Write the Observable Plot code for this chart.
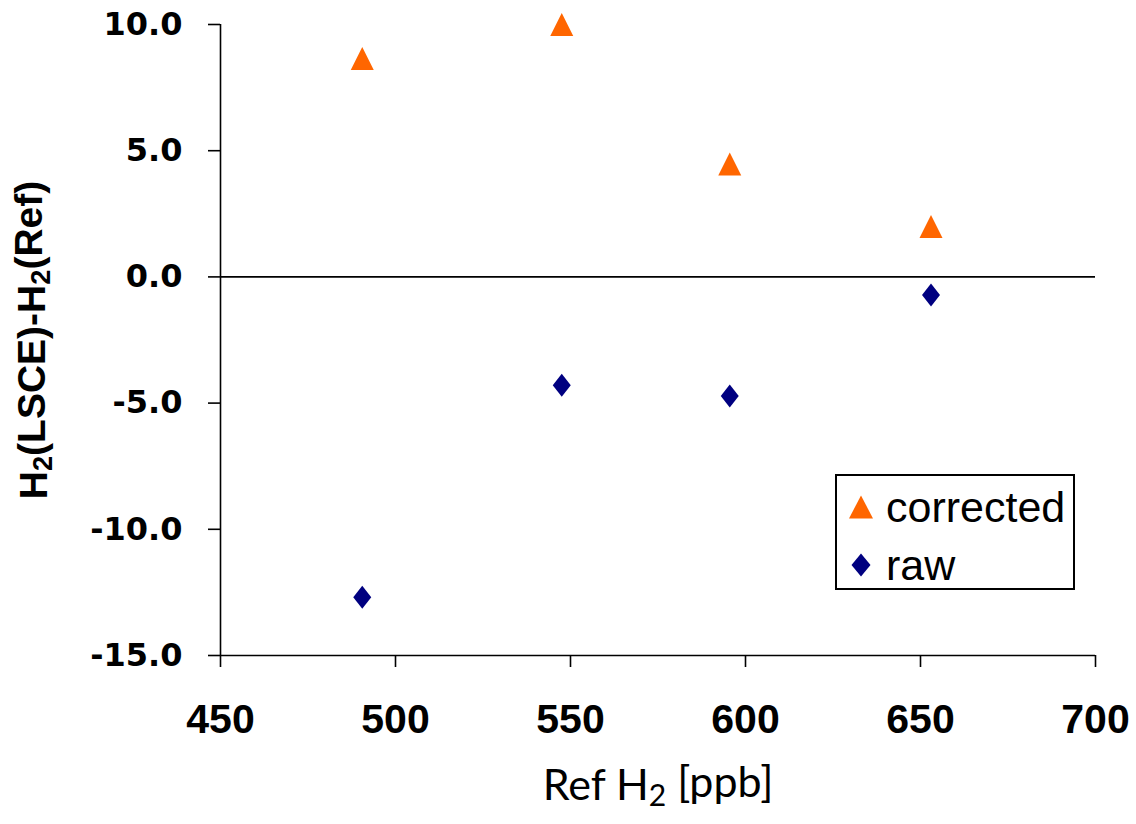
<!DOCTYPE html>
<html>
<head>
<meta charset="utf-8">
<script src="https://cdn.jsdelivr.net/npm/d3@7"></script>
<script src="https://cdn.jsdelivr.net/npm/@observablehq/plot@0.6"></script>
<style>
  html, body { margin: 0; padding: 0; background: #fff; }
  #wrap { position: relative; width: 1136px; height: 824px; }
  #legend {
    position: absolute; left: 835px; top: 474px; width: 236px; height: 112px;
    border: 2px solid #000; background: #fff; box-sizing: content-box;
    font-family: "Liberation Sans", Arial, sans-serif; font-size: 43px; color: #000;
  }
  .li { position: absolute; left: 0; height: 50px; width: 236px; }
  .li svg { position: absolute; left: 11px; top: 12px; }
  .li span { position: absolute; left: 49px; top: 0; line-height: 50px; }
</style>
</head>
<body>
<div id="wrap">
  <div id="chart"></div>
  <div id="legend"></div>
</div>
<script>
// ---- data ----
const refH2 = [490.5, 547.5, 595.5, 653];
const corrected = [8.65, 10.0, 4.47, 2.0];
const raw = [-12.69, -4.29, -4.72, -0.72];
const seriesNames = ["corrected", "raw"];
const seriesColors = ["#FF6600", "#000080"];
const xTicks = [450, 500, 550, 600, 650, 700];
const yTicks = [-15, -10, -5, 0, 5, 10];
const xLabel = "Ref H₂ [ppb]";
const yLabel = "H₂(LSCE)-H₂(Ref)";

const rows = [
  ...refH2.map((x, i) => ({x, y: corrected[i], series: "corrected"})),
  ...refH2.map((x, i) => ({x, y: raw[i], series: "raw"}))
];

// custom symbols (bounding-box centred)
const triSym = {
  draw(ctx, size) {
    const r = Math.sqrt(size / Math.PI);
    const hw = 1.28 * r, hh = 1.28 * r;
    ctx.moveTo(0, -hh); ctx.lineTo(hw, hh); ctx.lineTo(-hw, hh); ctx.closePath();
  }
};
const diaSym = {
  draw(ctx, size) {
    const r = Math.sqrt(size / Math.PI);
    const hw = 1.0 * r, hh = 1.28 * r;
    ctx.moveTo(0, -hh); ctx.lineTo(hw, 0); ctx.lineTo(0, hh); ctx.lineTo(-hw, 0); ctx.closePath();
  }
};

const chart = Plot.plot({
  width: 1136,
  height: 824,
  marginLeft: 220,
  marginRight: 41,
  marginTop: 24,
  marginBottom: 169,
  style: {background: "#fff", color: "#000"},
  x: {domain: [450, 700]},
  y: {domain: [-15, 10]},
  marks: [
    Plot.ruleY([0], {stroke: "#000", strokeWidth: 1.6}),
    Plot.ruleX([450], {stroke: "#000", strokeWidth: 1.6}),
    Plot.ruleY([-15], {stroke: "#000", strokeWidth: 1.6}),
    Plot.axisY({
      ticks: yTicks, tickSize: 12, tickPadding: 26, strokeWidth: 1.6,
      tickFormat: d => d.toFixed(1), label: null,
      fontSize: 32, fontWeight: "bold", fontFamily: "DejaVu Sans"
    }),
    Plot.axisX({
      ticks: xTicks, tickSize: 12, tickPadding: 36, strokeWidth: 1.6,
      tickFormat: d => String(d), label: null,
      fontSize: 41, fontWeight: "bold", fontFamily: "Liberation Sans"
    }),
    Plot.dot(rows.filter(d => d.series === "raw"), {
      x: "x", y: "y", symbol: diaSym, r: 9, fill: seriesColors[1], stroke: "none"
    }),
    Plot.dot(rows.filter(d => d.series === "corrected"), {
      x: "x", y: "y", symbol: triSym, r: 9, fill: seriesColors[0], stroke: "none"
    }),
    Plot.text([yLabel], {
      frameAnchor: "left", textAnchor: "middle", rotate: -90, dx: -186, text: d => d,
      fontSize: 39, fontWeight: "bold", fontFamily: "Liberation Sans", fill: "#000"
    }),
    Plot.text([xLabel], {
      frameAnchor: "bottom", textAnchor: "middle", dy: 144, text: d => d,
      fontSize: 43, fontFamily: "Lato", fill: "#000"
    })
  ]
});
document.getElementById("chart").appendChild(chart);

// subscripts via tspans
function subscriptify(textEl) {
  const s = textEl.textContent;
  textEl.textContent = "";
  const ns = "http://www.w3.org/2000/svg";
  const parts = s.split("₂");
  parts.forEach((p, i) => {
    if (p) {
      const t = document.createElementNS(ns, "tspan");
      t.textContent = p;
      if (i > 0) t.setAttribute("dy", "-0.2em");
      textEl.appendChild(t);
    }
    if (i < parts.length - 1) {
      const t = document.createElementNS(ns, "tspan");
      t.textContent = "2";
      t.setAttribute("font-size", "70%");
      t.setAttribute("dy", "0.2em");
      textEl.appendChild(t);
    }
  });
}
chart.querySelectorAll("text").forEach(t => { if (t.textContent.includes("₂")) subscriptify(t); });

// legend
const legend = document.getElementById("legend");
seriesNames.forEach((name, i) => {
  const item = document.createElement("div");
  item.className = "li";
  item.style.top = (i === 0 ? 6 : 64) + "px";
  const sym = i === 0
    ? `<svg width="26" height="26" viewBox="-13 -13 26 26"><path d="M0,-11.5L12,11.5L-12,11.5Z" fill="${seriesColors[0]}"/></svg>`
    : `<svg width="26" height="26" viewBox="-13 -13 26 26"><path d="M0,-11.5L9.5,0L0,11.5L-9.5,0Z" fill="${seriesColors[1]}"/></svg>`;
  item.innerHTML = sym + `<span>${name}</span>`;
  legend.appendChild(item);
});
</script>
</body>
</html>
